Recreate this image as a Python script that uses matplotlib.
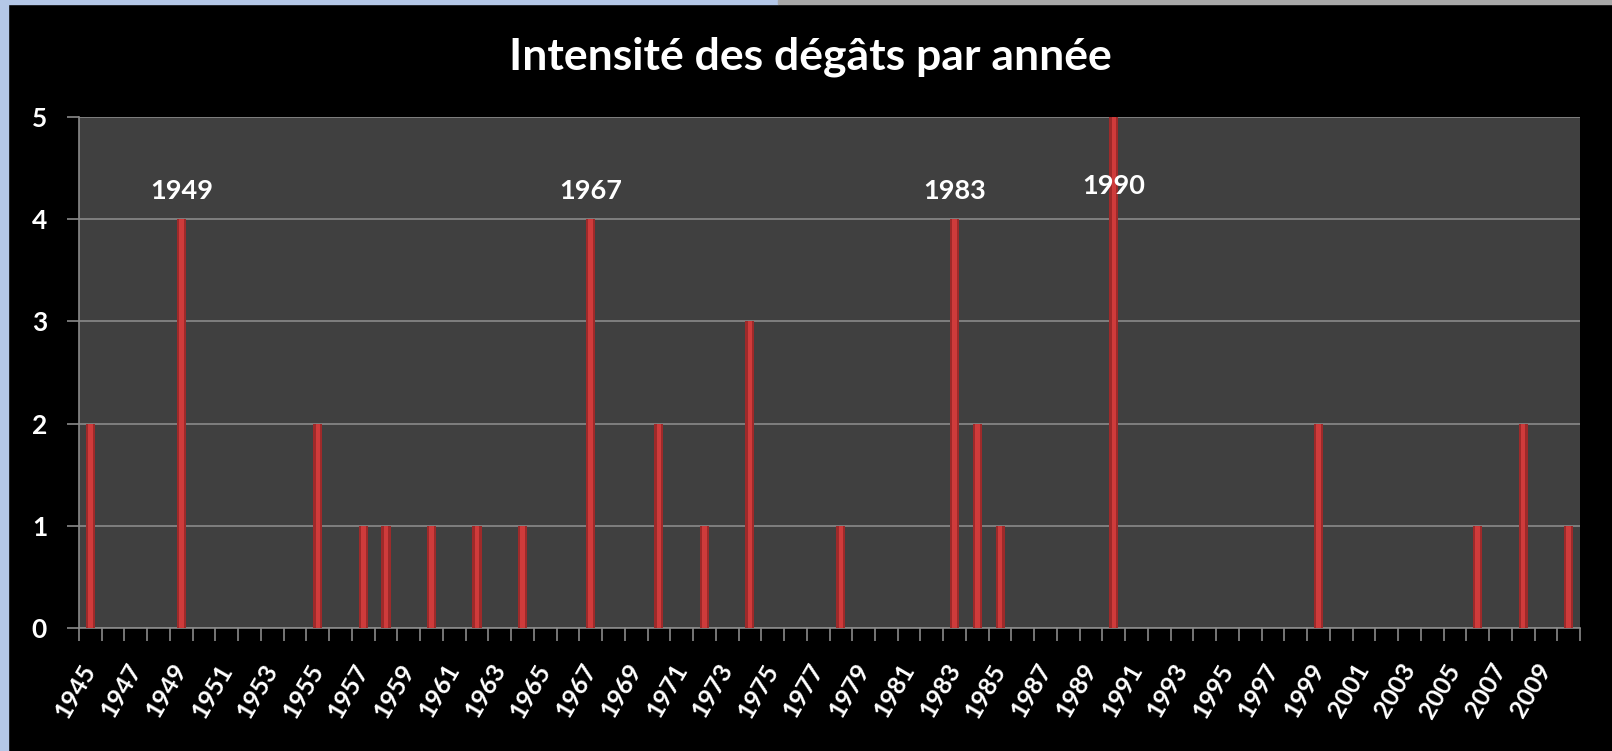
import matplotlib.pyplot as plt
from matplotlib.patches import Rectangle
import numpy as np

years = list(range(1945, 2011))
event_years = [1945, 1949, 1955, 1957, 1958, 1960, 1962, 1964, 1967, 1970,
               1972, 1974, 1978, 1983, 1984, 1985, 1990, 1999, 2006, 2008, 2010]
event_values = [2, 4, 2, 1, 1, 1, 1, 1, 4, 2,
                1, 3, 1, 4, 2, 1, 5, 2, 1, 2, 1]
labelled_years = [1949, 1967, 1983, 1990]
label_heights = [4.28, 4.28, 4.28, 4.32]

values = np.zeros(len(years))
for y, v in zip(event_years, event_values):
    values[years.index(y)] = v

plt.rcParams['font.family'] = ['Lato', 'DejaVu Sans']
plt.rcParams['font.weight'] = 'bold'

fig = plt.figure(figsize=(16.12, 7.51), dpi=100, facecolor='black')

# slide frame around the chart
fig.add_artist(Rectangle((0, 0), 8 / 1612, 1, transform=fig.transFigure,
                         color='#b4c7e7', zorder=-1))
fig.add_artist(Rectangle((0, 1 - 4 / 751), 778 / 1612, 4 / 751,
                         transform=fig.transFigure, color='#b4c7e7', zorder=-1))
fig.add_artist(Rectangle((778 / 1612, 1 - 4 / 751), 1 - 778 / 1612, 4 / 751,
                         transform=fig.transFigure, color='#a8a8a8', zorder=-1))

ax = fig.add_axes([79 / 1612, 123 / 751, 1501 / 1612, 511 / 751])
ax.set_facecolor('#404040')

x = np.arange(len(years))
ax.bar(x, values, width=0.4, color='#9e2a2a', zorder=3)
ax.bar(x, values, width=0.2, color='#cf3b3b', zorder=4)

ax.set_xlim(-0.5, len(years) - 0.5)
ax.set_ylim(0, 5)
ax.set_yticks(range(6))
ax.yaxis.grid(True, color='#8a8a8a', linewidth=1.2, zorder=1)
ax.tick_params(axis='y', colors='#8a8a8a', length=9, width=1.2, pad=14,
               labelcolor='white', labelsize=19)

ax.set_xticks(x[::2])
ax.set_xticklabels([str(y) for y in years[::2]], rotation=60, ha='right',
                   va='center', rotation_mode='anchor', color='white',
                   fontsize=18)
ax.tick_params(axis='x', which='major', length=0, pad=27)
ax.set_xticks(np.arange(-0.5, len(years), 1), minor=True)
ax.tick_params(axis='x', which='minor', colors='#8a8a8a', length=9, width=1.2)

for side in ['top', 'right']:
    ax.spines[side].set_visible(False)
for side in ['left', 'bottom']:
    ax.spines[side].set_color('#8a8a8a')
    ax.spines[side].set_linewidth(1.2)

for y, h in zip(labelled_years, label_heights):
    ax.text(years.index(y), h, str(y), color='white', fontsize=19.5,
            ha='center', va='center', zorder=5)

fig.text(0.503, 0.925, 'Intensité des dégâts par année', color='white',
         fontsize=32, fontweight='bold', ha='center', va='center')

fig.savefig('out.png', dpi=100, facecolor='black')
